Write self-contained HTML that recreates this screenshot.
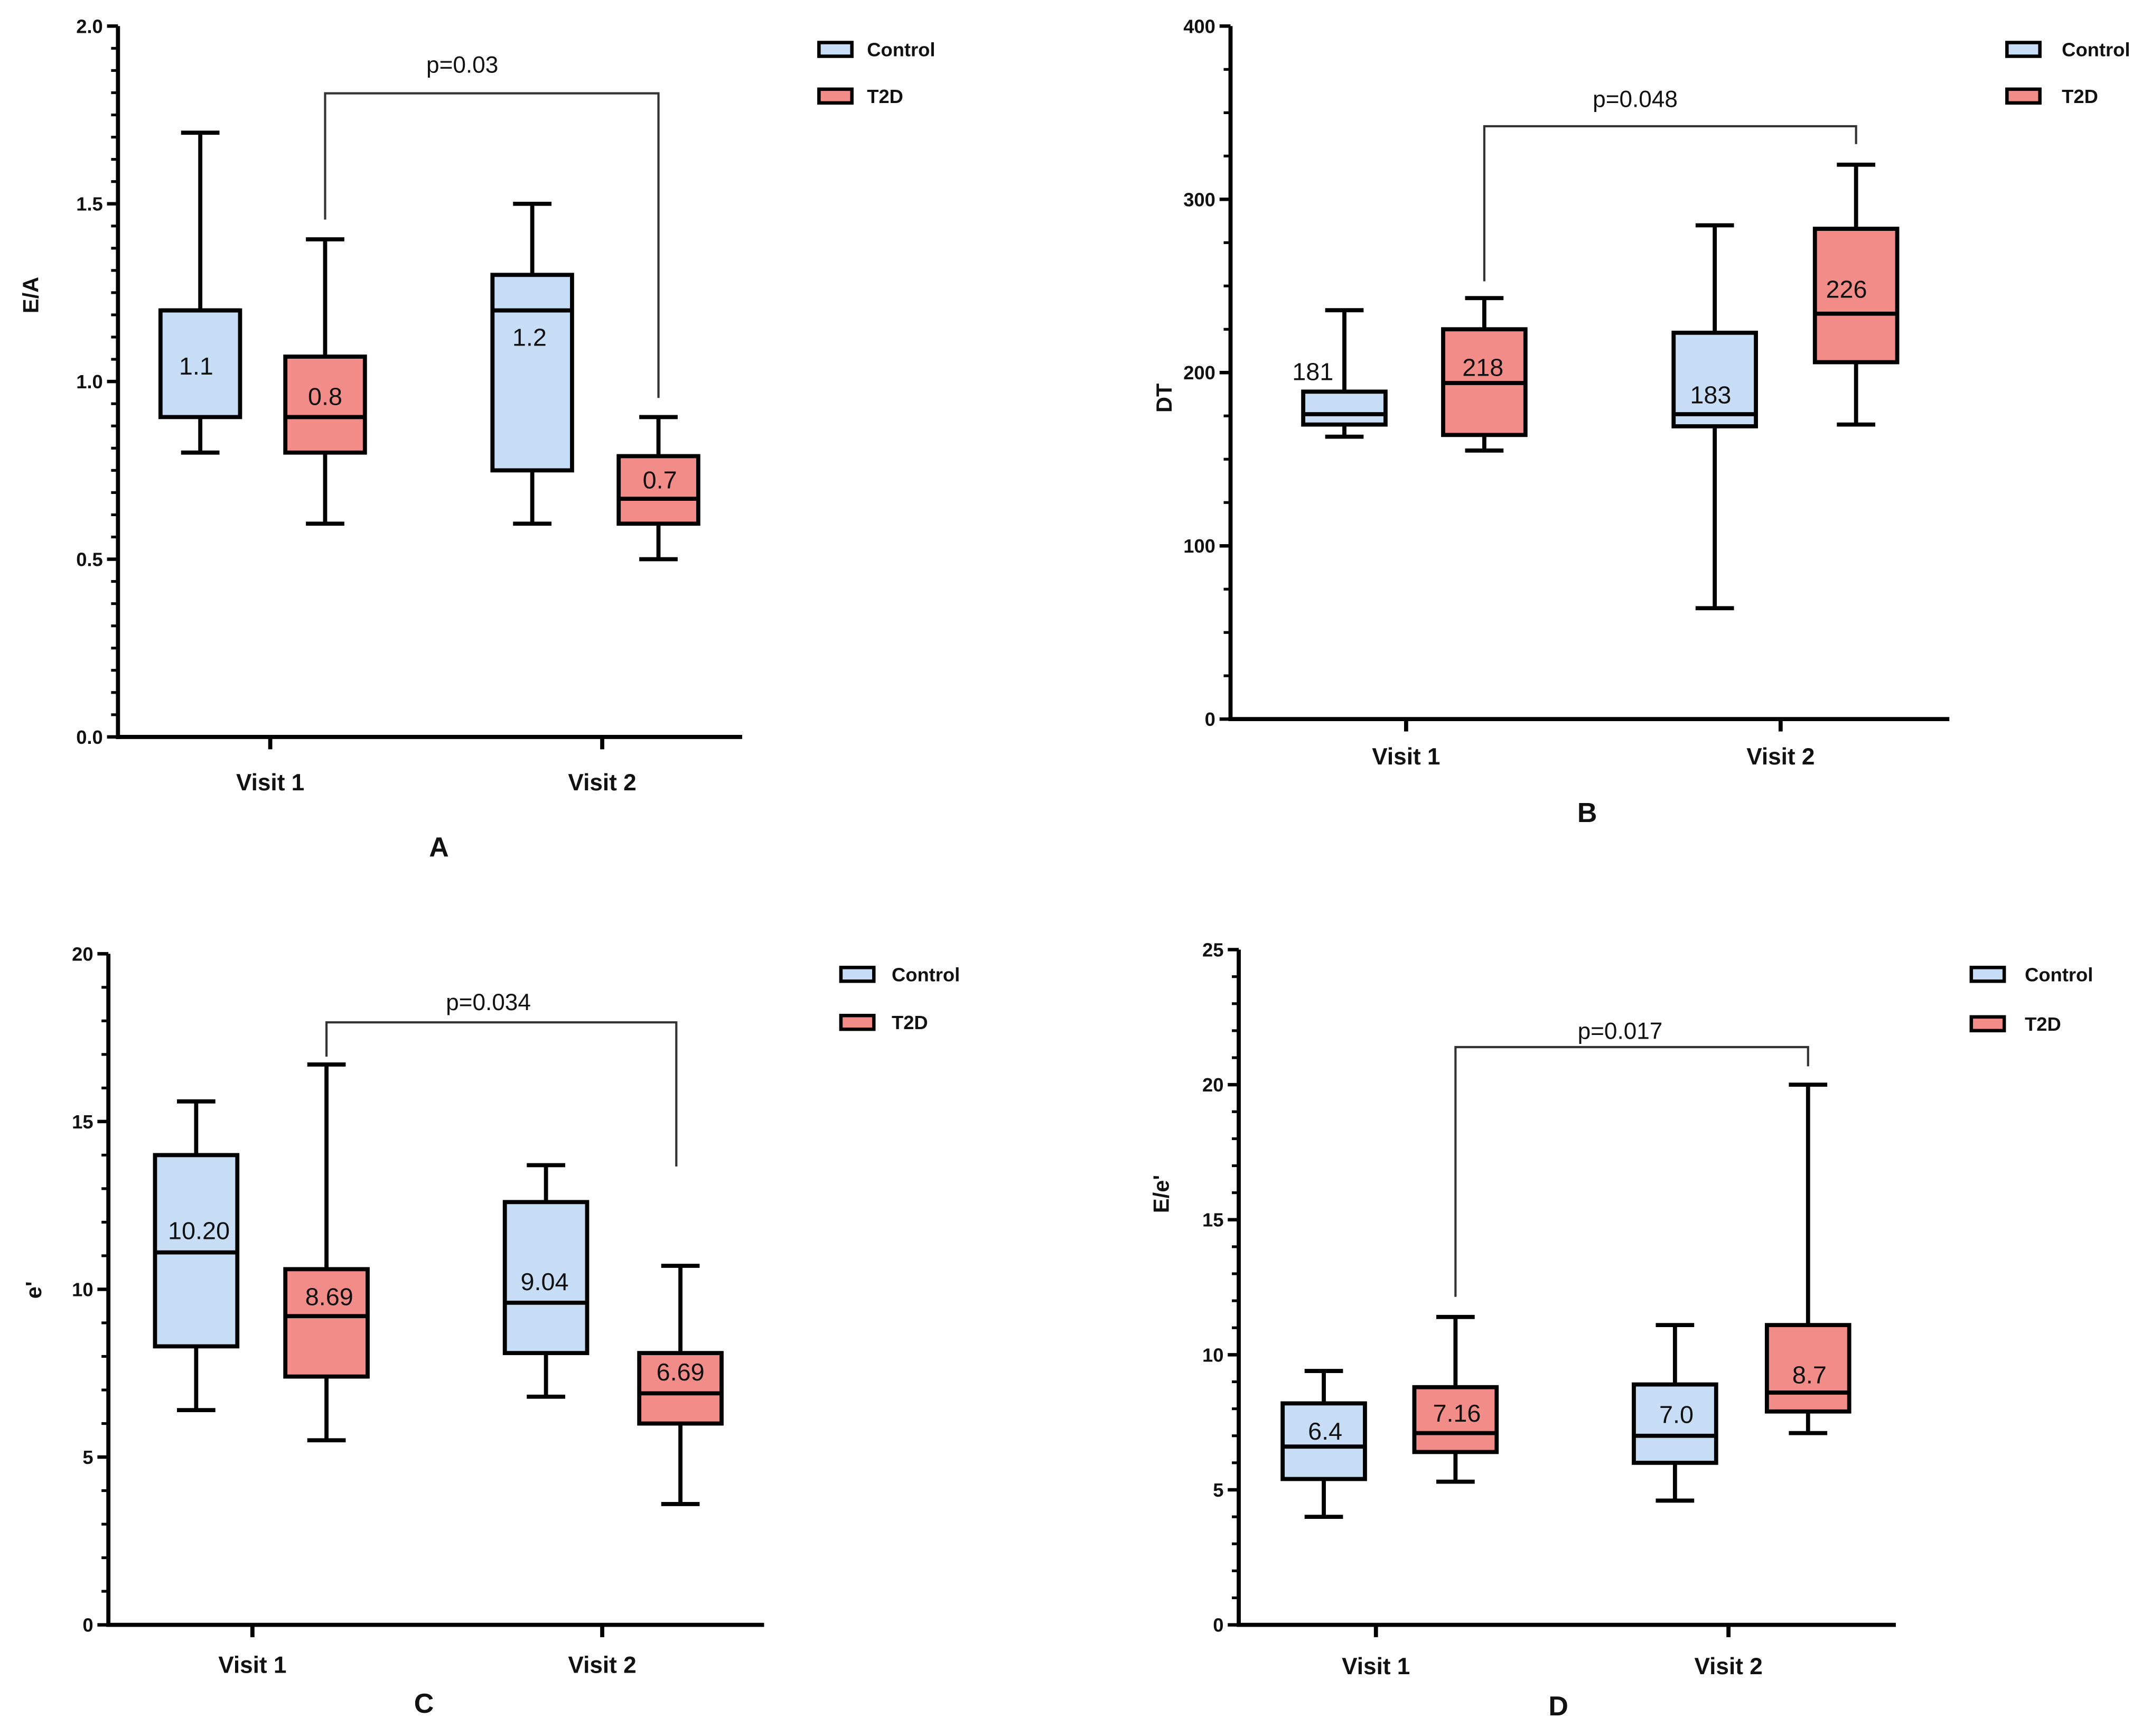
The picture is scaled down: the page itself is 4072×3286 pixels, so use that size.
<!DOCTYPE html>
<html><head><meta charset="utf-8"><style>
html,body{margin:0;padding:0;background:#fff}
svg{display:block}
text{font-family:"Liberation Sans",sans-serif;fill:#111}
</style></head><body>
<svg id="fig" width="4072" height="3286" viewBox="0 0 1568 1265" preserveAspectRatio="none" xmlns="http://www.w3.org/2000/svg"></svg>
<script>
const NS="http://www.w3.org/2000/svg";
const svg=document.getElementById('fig');
const groupNames=["Control","T2D"];
const visitLabels=["Visit 1","Visit 2"];
// panel A (E/A): [min,q1,median,q3,max]
const aCtrlV1=[0.8,0.9,1.2,1.2,1.7];
const aT2dV1=[0.6,0.8,0.9,1.07,1.4];
const aCtrlV2=[0.6,0.75,1.2,1.3,1.5];
const aT2dV2=[0.5,0.6,0.67,0.79,0.9];
const aLabels=["1.1","0.8","1.2","0.7"];
const aTicks=[0,0.5,1.0,1.5,2.0];
const aTickLabels=["0.0","0.5","1.0","1.5","2.0"];
// panel B (DT)
const bCtrlV1=[163,170,176,189,236];
const bT2dV1=[155,164,194,225,243];
const bCtrlV2=[64,169,176,223,285];
const bT2dV2=[170,206,234,283,320];
const bLabels=["181","218","183","226"];
const bTicks=[0,100,200,300,400];
const bTickLabels=["0","100","200","300","400"];
// panel C (e')
const cCtrlV1=[6.4,8.3,11.1,14.0,15.6];
const cT2dV1=[5.5,7.4,9.2,10.6,16.7];
const cCtrlV2=[6.8,8.1,9.6,12.6,13.7];
const cT2dV2=[3.6,6.0,6.9,8.1,10.7];
const cLabels=["10.20","8.69","9.04","6.69"];
const cTicks=[0,5,10,15,20];
const cTickLabels=["0","5","10","15","20"];
// panel D (E/e')
const dCtrlV1=[4.0,5.4,6.6,8.2,9.4];
const dT2dV1=[5.3,6.4,7.1,8.8,11.4];
const dCtrlV2=[4.6,6.0,7.0,8.9,11.1];
const dT2dV2=[7.1,7.9,8.6,11.1,20.0];
const dLabels=["6.4","7.16","7.0","8.7"];
const dTicks=[0,5,10,15,20,25];
const dTickLabels=["0","5","10","15","20","25"];
const pValues=["p=0.03","p=0.048","p=0.034","p=0.017"];

function el(tag,attrs,parent){const e=document.createElementNS(NS,tag);for(const k in attrs)e.setAttribute(k,attrs[k]);(parent||svg).appendChild(e);return e;}
function txt(s,attrs,parent){const t=el('text',attrs,parent);t.textContent=s;return t;}

function panel(cfg){
  const g=el('g',{});
  
  
  const ymax=cfg.ticks[cfg.ticks.length-1];
  const Y=v=>cfg.y0-(v/ymax)*(cfg.y0-cfg.yTop);
  // axes
  const ya=el('line',{x1:cfg.ax,y1:cfg.yTop,x2:cfg.ax,y2:cfg.y0+1.5,stroke:'#000','stroke-width':3},g);
  
  const xa=el('line',{x1:cfg.ax-1.5,y1:cfg.y0,x2:cfg.xEnd,y2:cfg.y0,stroke:'#000','stroke-width':3},g);
  
  cfg.ticks.forEach((v,i)=>{
    el('line',{x1:cfg.ax-8,y1:Y(v),x2:cfg.ax,y2:Y(v),stroke:'#000','stroke-width':2.5},g);
    const t=txt(cfg.tickLabels[i],{x:cfg.ax-11,y:Y(v)+5,'text-anchor':'end','font-size':14,'font-weight':'bold'},g);
    
    if(i<cfg.ticks.length-1){const step=(cfg.ticks[i+1]-v)/cfg.minor;
      for(let k=1;k<cfg.minor;k++){const yy=Y(v+k*step);el('line',{x1:cfg.ax-5,y1:yy,x2:cfg.ax,y2:yy,stroke:'#000','stroke-width':2},g);}}
  });
  cfg.visitX.forEach((x,i)=>{
    el('line',{x1:x,y1:cfg.y0,x2:x,y2:cfg.y0+9,stroke:'#000','stroke-width':3},g);
    const t=txt(visitLabels[i],{x:x,y:cfg.y0+cfg.xlOff,'text-anchor':'middle','font-size':17,'font-weight':'bold'},g);
    
  });
  const yl=txt(cfg.ylabel,{x:0,y:0,'text-anchor':'middle','font-size':16,'font-weight':'bold',transform:`translate(${cfg.ylx},${cfg.yly}) rotate(-90)`},g);
  
  const pl=txt(cfg.id.toUpperCase(),{x:cfg.plx,y:cfg.ply,'text-anchor':'middle','font-size':20,'font-weight':'bold'},g);
  
  // boxes
  const colors=['#c7ddf6','#f28c88'];
  cfg.boxes.forEach((b,i)=>{
    const cx=cfg.boxX[i],w=cfg.bw,c=colors[i%2];
    const bg=el('g',{},g);
    
    
    el('line',{x1:cx,y1:Y(b[4]),x2:cx,y2:Y(b[0]),stroke:'#000','stroke-width':3},bg);
    el('line',{x1:cx-14,y1:Y(b[4]),x2:cx+14,y2:Y(b[4]),stroke:'#000','stroke-width':3},bg);
    el('line',{x1:cx-14,y1:Y(b[0]),x2:cx+14,y2:Y(b[0]),stroke:'#000','stroke-width':3},bg);
    el('rect',{x:cx-w/2,y:Y(b[3]),width:w,height:Y(b[1])-Y(b[3]),fill:c,stroke:'#000','stroke-width':3},bg);
    el('line',{x1:cx-w/2,y1:Y(b[2]),x2:cx+w/2,y2:Y(b[2]),stroke:'#000','stroke-width':3},bg);
    const lt=txt(cfg.labels[i],{x:cfg.lab[i][0],y:cfg.lab[i][1]+6,'text-anchor':'middle','font-size':18},bg);
    
  });
  // bracket
  const br=cfg.br;
  const bk=el('path',{d:`M${br[0]},${br[3]} V${br[2]} H${br[1]} V${br[4]}`,fill:'none',stroke:'#333','stroke-width':1.6},g);
  
  const pt=txt(cfg.p,{x:cfg.px,y:cfg.py+6,'text-anchor':'middle','font-size':17},g);
  
  // legend
  groupNames.forEach((n,i)=>{
    const lg=el('g',{},g);
    
    
    const yy=cfg.legY[i];
    el('rect',{x:cfg.legX,y:yy-5,width:24,height:10,fill:colors[i],stroke:'#000','stroke-width':2.5},lg);
    txt(n,{x:cfg.legX+cfg.legT,y:yy+5,'font-size':14,'font-weight':'bold'},lg);
  });
}

panel({id:'a',ax:86,y0:537,yTop:19,xEnd:541,ticks:aTicks,tickLabels:aTickLabels,minor:8,visitX:[197,439],xlOff:39,
 ylabel:'E/A',ylx:28,yly:215,plx:320,ply:624,boxes:[aCtrlV1,aT2dV1,aCtrlV2,aT2dV2],boxX:[146,237,388,480],bw:58,
 labels:aLabels,lab:[[143,267],[237,289],[386,246],[481,350]],br:[237,480,68,160,290],p:pValues[0],px:337,py:47,
 legX:597,legY:[36,70],legT:35});
panel({id:'b',ax:897,y0:524,yTop:19,xEnd:1421,ticks:bTicks,tickLabels:bTickLabels,minor:4,visitX:[1025,1298],xlOff:33,
 ylabel:'DT',ylx:854,yly:290,plx:1157,ply:599,boxes:[bCtrlV1,bT2dV1,bCtrlV2,bT2dV2],boxX:[980,1082,1250,1353],bw:60,
 labels:bLabels,lab:[[957,271],[1081,268],[1247,288],[1346,211]],br:[1082,1353,92,205,105],p:pValues[1],px:1192,py:72,
 legX:1463,legY:[36,70],legT:40});
panel({id:'c',ax:79,y0:1184,yTop:695,xEnd:557,ticks:cTicks,tickLabels:cTickLabels,minor:5,visitX:[184,439],xlOff:35,
 ylabel:"e'",ylx:30,yly:940,plx:309,ply:1248,boxes:[cCtrlV1,cT2dV1,cCtrlV2,cT2dV2],boxX:[143,238,398,496],bw:60,
 labels:cLabels,lab:[[145,897],[240,945],[397,934],[496,1000]],br:[238,493,745,770,850],p:pValues[2],px:356,py:730,
 legX:613,legY:[710,745],legT:37});
panel({id:'d',ax:903,y0:1184,yTop:692,xEnd:1382,ticks:dTicks,tickLabels:dTickLabels,minor:5,visitX:[1003,1260],xlOff:36,
 ylabel:"E/e'",ylx:852,yly:870,plx:1136,ply:1250,boxes:[dCtrlV1,dT2dV1,dCtrlV2,dT2dV2],boxX:[965,1061,1221,1318],bw:60,
 labels:dLabels,lab:[[966,1043],[1062,1030],[1222,1031],[1319,1002]],br:[1061,1318,763,945,777],p:pValues[3],px:1181,py:751,
 legX:1437,legY:[710,746],legT:39});
</script>
</body></html>
